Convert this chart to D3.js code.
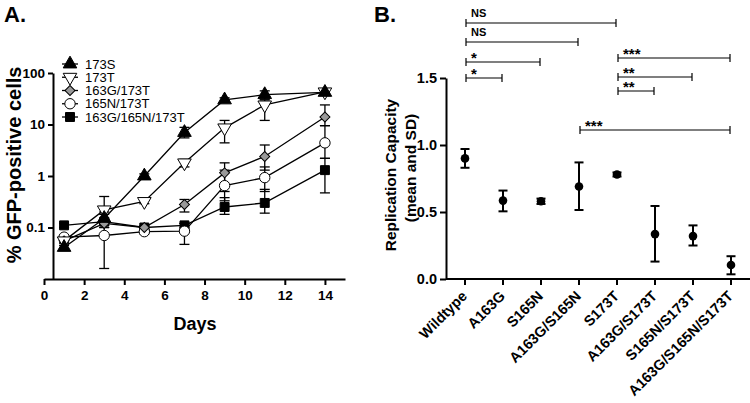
<!DOCTYPE html>
<html><head><meta charset="utf-8">
<script src="https://cdn.jsdelivr.net/npm/d3@7"></script>
<style>body{margin:0;background:#fff}text{font-family:Arial,"Liberation Sans",sans-serif}</style>
</head><body><svg id="c" width="750" height="403"></svg>
<script>
// ---- Panel A data ----
const days = [1, 3, 5, 7, 9, 11, 14];
const seriesNames = ["173S", "173T", "163G/173T", "165N/173T", "163G/165N/173T"];
const v173S = [0.041, 0.15, 1.0, 7, 30, 38, 42];
const v173T = [0.055, 0.22, 0.32, 1.8, 8.6, 24, 43];
const v163G = [0.055, 0.12, 0.1, 0.28, 1.15, 2.4, 14];
const v165N = [0.065, 0.07, 0.083, 0.085, 0.65, 0.93, 4.4];
const vTriple = [0.11, 0.13, 0.1, 0.11, 0.25, 0.3, 1.3];
const lo173S = [0.036, 0.12, 0.9, 5.5, 27, 31, 38];
const hi173S = [0.045, 0.18, 1.1, 8.8, 33, 45, 46];
const lo173T = [0.05, 0.1, 0.29, 1.5, 4.4, 12, 38];
const hi173T = [0.06, 0.4, 0.35, 2.1, 12, 30, 48];
const lo163G = [0.05, 0.1, 0.09, 0.2, 0.5, 1.3, 9.5];
const hi163G = [0.06, 0.14, 0.11, 0.35, 1.8, 4.0, 24];
const lo165N = [0.06, 0.016, 0.076, 0.047, 0.33, 0.5, 2.2];
const hi165N = [0.07, 0.2, 0.09, 0.12, 1.3, 1.5, 9.5];
const loTriple = [0.1, 0.11, 0.095, 0.1, 0.18, 0.19, 0.47];
const hiTriple = [0.12, 0.15, 0.105, 0.12, 0.38, 0.55, 2.2];
const yTicksA = [0.1, 1, 10, 100];
const yTickLabelsA = ["0.1", "1", "10", "100"];
const xTicksA = [0, 2, 4, 6, 8, 10, 12, 14];

// ---- Panel B data ----
const mutants = ["Wildtype", "A163G", "S165N", "A163G/S165N", "S173T", "A163G/S173T", "S165N/S173T", "A163G/S165N/S173T"];
const capMean = [0.90, 0.585, 0.58, 0.69, 0.78, 0.335, 0.32, 0.105];
const capLo = [0.83, 0.505, 0.56, 0.515, 0.765, 0.13, 0.25, 0.035];
const capHi = [0.97, 0.66, 0.60, 0.87, 0.795, 0.545, 0.40, 0.17];
const yTicksB = [0.0, 0.5, 1.0, 1.5];
const sigFrom = ["Wildtype", "Wildtype", "Wildtype", "Wildtype", "S173T", "S173T", "S173T", "A163G/S165N"];
const sigTo = ["S173T", "A163G/S165N", "S165N", "A163G", "A163G/S165N/S173T", "S165N/S173T", "A163G/S173T", "A163G/S165N/S173T"];
const sigLabel = ["NS", "NS", "*", "*", "***", "**", "**", "***"];
const sigLevel = [0, 1, 2, 3, 2, 3, 4, 5];

const svg = d3.select("#c");
const FF = "Arial,'Liberation Sans',sans-serif";

// ================= Panel A =================
const xA = d3.scaleLinear().domain([0, 15]).range([44, 345]);
const yA = d3.scaleLog().domain([0.01, 100]).range([279, 73]);
const gA = svg.append("g");

const xAxA = d3.axisBottom(xA).tickValues(xTicksA).tickSize(6).tickSizeOuter(0);
gA.append("g").attr("transform", "translate(0,279)").call(xAxA)
  .call(g => { g.select(".domain").attr("stroke-width", 2); g.selectAll(".tick line").attr("stroke-width", 2);
    g.selectAll("text").attr("font-size", 13.5).attr("font-weight", "bold").attr("dy", "0.9em").attr("font-family", FF); });
const yAxA = d3.axisLeft(yA).tickValues(yTicksA).tickFormat((d, i) => yTickLabelsA[i]).tickSize(5).tickSizeOuter(0);
gA.append("g").attr("transform", "translate(53,0)").call(yAxA)
  .call(g => { g.select(".domain").attr("stroke-width", 2); g.selectAll(".tick line").attr("stroke-width", 2);
    g.selectAll("text").attr("font-size", 13.5).attr("font-weight", "bold").attr("font-family", FF); });

gA.append("text").attr("x", 195).attr("y", 330).attr("text-anchor", "middle")
  .attr("font-size", 18).attr("font-weight", "bold").text("Days");
gA.append("text").attr("transform", "translate(21,165) rotate(-90)").attr("text-anchor", "middle")
  .attr("font-size", 20).attr("font-weight", "bold").text("% GFP-positive cells");

const seriesA = [
  { name: seriesNames[0], v: v173S, lo: lo173S, hi: hi173S, sym: d3.symbolTriangle, size: 80, fill: "#000", rot: 0 },
  { name: seriesNames[1], v: v173T, lo: lo173T, hi: hi173T, sym: d3.symbolTriangle, size: 80, fill: "#fff", rot: 180 },
  { name: seriesNames[2], v: v163G, lo: lo163G, hi: hi163G, sym: d3.symbolSquare, size: 50, fill: "#999", rot: 45 },
  { name: seriesNames[3], v: v165N, lo: lo165N, hi: hi165N, sym: d3.symbolCircle, size: 85, fill: "#fff", rot: 0 },
  { name: seriesNames[4], v: vTriple, lo: loTriple, hi: hiTriple, sym: d3.symbolSquare, size: 80, fill: "#000", rot: 0 }
];
const line = d3.line().x(d => xA(d[0])).y(d => yA(d[1]));

seriesA.forEach(s => {
  days.forEach((d, i) => {
    const x = xA(d);
    gA.append("line").attr("x1", x).attr("x2", x).attr("y1", yA(s.lo[i])).attr("y2", yA(s.hi[i])).attr("stroke", "#000").attr("stroke-width", 1.3);
    [s.lo[i], s.hi[i]].forEach(val => gA.append("line").attr("x1", x - 5).attr("x2", x + 5).attr("y1", yA(val)).attr("y2", yA(val)).attr("stroke", "#000").attr("stroke-width", 1.3));
  });
});
seriesA.forEach(s => {
  gA.append("path").attr("d", line(days.map((d, i) => [d, s.v[i]]))).attr("fill", "none").attr("stroke", "#000").attr("stroke-width", 1.3);
});
seriesA.slice().reverse().forEach(s => {
  days.forEach((d, i) => {
    gA.append("path").attr("d", d3.symbol(s.sym, s.size)())
      .attr("transform", `translate(${xA(d)},${yA(s.v[i])}) rotate(${s.rot})`)
      .attr("fill", s.fill).attr("stroke", "#000").attr("stroke-width", 1);
  });
});
const legY = d3.scaleLinear().domain([0, 4]).range([64, 117]);
seriesA.forEach((s, i) => {
  const y = legY(i);
  gA.append("line").attr("x1", 62).attr("x2", 78).attr("y1", y).attr("y2", y).attr("stroke", "#000").attr("stroke-width", 1.3);
  gA.append("path").attr("d", d3.symbol(s.sym, s.size)()).attr("transform", `translate(70,${y}) rotate(${s.rot})`)
    .attr("fill", s.fill).attr("stroke", "#000").attr("stroke-width", 1);
  gA.append("text").attr("x", 85).attr("y", y + 4.5).attr("font-size", 13).text(s.name);
});
svg.append("text").attr("x", 4).attr("y", 22).attr("font-size", 22).attr("font-weight", "bold").text("A.");

// ================= Panel B =================
const xB = d3.scaleBand().domain(mutants).range([446, 750]).paddingInner(0).paddingOuter(0);
const xc = m => xB(m) + xB.bandwidth() / 2;
const yB = d3.scaleLinear().domain([0, 1.5]).range([279, 78]);
const gB = svg.append("g");

gB.append("line").attr("x1", 446).attr("x2", 750).attr("y1", 279).attr("y2", 279).attr("stroke", "#000").attr("stroke-width", 2);
mutants.forEach(m => {
  gB.append("line").attr("x1", xc(m)).attr("x2", xc(m)).attr("y1", 279).attr("y2", 285).attr("stroke", "#000").attr("stroke-width", 2);
  gB.append("text").attr("transform", `translate(${xc(m) + 3},${297}) rotate(-45)`).attr("text-anchor", "end")
    .attr("font-size", 14.5).attr("font-weight", "bold").text(m);
});
const yAxB = d3.axisLeft(yB).tickValues(yTicksB).tickFormat(d3.format(".1f")).tickSize(6).tickSizeOuter(0);
gB.append("g").attr("transform", "translate(446,0)").call(yAxB)
  .call(g => { g.select(".domain").attr("stroke-width", 2); g.selectAll(".tick line").attr("stroke-width", 2);
    g.selectAll("text").attr("font-size", 14.5).attr("font-weight", "bold").attr("font-family", FF); });

gB.append("text").attr("transform", "translate(396,175) rotate(-90)").attr("text-anchor", "middle")
  .attr("font-size", 15.5).attr("font-weight", "bold").text("Replication Capacity");
gB.append("text").attr("transform", "translate(416,168) rotate(-90)").attr("text-anchor", "middle")
  .attr("font-size", 15.5).attr("font-weight", "bold").text("(mean and SD)");

mutants.forEach((m, i) => {
  const x = xc(m);
  gB.append("line").attr("x1", x).attr("x2", x).attr("y1", yB(capLo[i])).attr("y2", yB(capHi[i])).attr("stroke", "#000").attr("stroke-width", 2);
  [capLo[i], capHi[i]].forEach(v => gB.append("line").attr("x1", x - 4.5).attr("x2", x + 4.5).attr("y1", yB(v)).attr("y2", yB(v)).attr("stroke", "#000").attr("stroke-width", 2));
  gB.append("circle").attr("cx", x).attr("cy", yB(capMean[i])).attr("r", 4.3).attr("fill", "#000");
});

const levelY = [23, 42, 62, 78, 92, 130];
const levelYRight = [23, 42, 58, 77, 91, 130];
sigLabel.forEach((lab, i) => {
  const x1 = xc(sigFrom[i]) + 1, x2 = xc(sigTo[i]) - 1;
  const y = (sigFrom[i] === "Wildtype" ? levelY : levelYRight)[sigLevel[i]];
  gB.append("line").attr("x1", x1).attr("x2", x2).attr("y1", y).attr("y2", y).attr("stroke", "#000").attr("stroke-width", 1.2);
  [x1, x2].forEach(x => gB.append("line").attr("x1", x).attr("x2", x).attr("y1", y - 4).attr("y2", y + 4).attr("stroke", "#000").attr("stroke-width", 1.2));
  gB.append("text").attr("x", x1 + 5).attr("y", lab === "NS" ? y - 6 : y + 1).attr("font-size", lab === "NS" ? 11 : 15).attr("font-weight", "bold").text(lab);
});
svg.append("text").attr("x", 374).attr("y", 22).attr("font-size", 22).attr("font-weight", "bold").text("B.");
</script></body></html>
